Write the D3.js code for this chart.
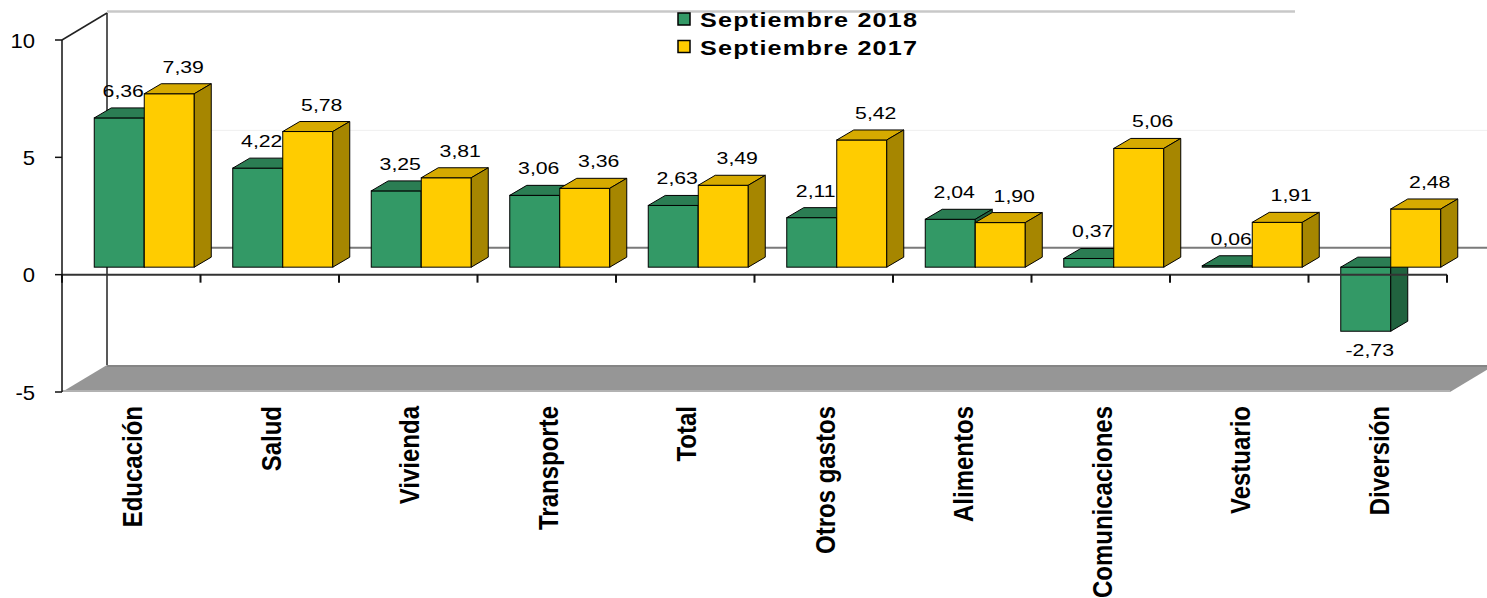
<!DOCTYPE html>
<html lang="es">

<head>
  <meta charset="utf-8" />
  <title>Septiembre 2018 vs Septiembre 2017</title>
  <script src="https://d3js.org/d3.v7.min.js"></script>
  <style>
    body { margin: 0; background: #fff; }
    text { font-family: "Liberation Sans", Arial, sans-serif; fill: #000; }
  </style>
</head>

<body>
  <script>
    // data
    var categories = ["Educación", "Salud", "Vivienda", "Transporte", "Total", "Otros gastos",
      "Alimentos", "Comunicaciones", "Vestuario", "Diversión"];
    var series = ["Septiembre 2018", "Septiembre 2017"];
    var values2018 = [6.36, 4.22, 3.25, 3.06, 2.63, 2.11, 2.04, 0.37, 0.06, -2.73];
    var values2017 = [7.39, 5.78, 3.81, 3.36, 3.49, 5.42, 1.90, 5.06, 1.91, 2.48];
    var yTicks = [-5, 0, 5, 10];

    var svg_width = 1487;
    var svg_height = 598;

    var svg = d3.select("body").append("svg")
      .attr("width", svg_width)
      .attr("height", svg_height);

    // 3d offsets: back wall, bar front plane, bar depth
    var WDX = 45, WDY = -27;
    var BOX = 13, BOY = -7.5;
    var BDX = 17, BDY = -10;

    var colors = {
      "Septiembre 2018": { front: "#339966", top: "#2b7d53", side: "#21633f" },
      "Septiembre 2017": { front: "#ffcc00", top: "#d6aa00", side: "#a68600" }
    };
    var labelShift = { "Septiembre 2018": 4, "Septiembre 2017": 14 };

    var y = d3.scaleLinear().domain([-5, 10]).range([392, 40]);
    var x0 = d3.scaleBand().domain(categories).range([62, 1447]);
    var x1 = d3.scaleBand().domain(series).range([0, x0.bandwidth()]).paddingOuter(0.385);

    var fmt = d3.formatLocale({ decimal: ",", thousands: ".", grouping: [3], currency: ["", ""], minus: "-" }).format(".2f");

    var rows = categories.map(function (c, i) {
      return { cat: c, vals: [{ s: series[0], v: values2018[i] }, { s: series[1], v: values2017[i] }] };
    });

    var xL = x0.range()[0], xR = x0.range()[1];

    // back wall + gridlines
    svg.append("rect")
      .attr("x", xL + WDX).attr("y", y(10) + WDY)
      .attr("width", svg_width).attr("height", y(-5) - y(10))
      .attr("fill", "#fff");

    svg.append("line")
      .attr("x1", xL + WDX).attr("x2", 1295)
      .attr("y1", y(10) + WDY - 1.5).attr("y2", y(10) + WDY - 1.5)
      .attr("stroke", "#c8c8c8").attr("stroke-width", 2.5);

    svg.append("line")
      .attr("x1", xL + WDX).attr("x2", xR + WDX)
      .attr("y1", y(5) + WDY).attr("y2", y(5) + WDY)
      .attr("stroke", "#efefef").attr("stroke-width", 1);

    svg.append("line")
      .attr("x1", xL + WDX).attr("x2", xR + WDX)
      .attr("y1", y(0) + WDY).attr("y2", y(0) + WDY)
      .attr("stroke", "#7a7a7a").attr("stroke-width", 2);

    // side wall edges
    svg.append("line")
      .attr("x1", xL).attr("y1", y(10))
      .attr("x2", xL + WDX).attr("y2", y(10) + WDY)
      .attr("stroke", "#222").attr("stroke-width", 1.5);

    svg.append("line")
      .attr("x1", xL + WDX).attr("y1", y(10) + WDY)
      .attr("x2", xL + WDX).attr("y2", y(-5) + WDY)
      .attr("stroke", "#222").attr("stroke-width", 1.5);

    // floor
    svg.append("polygon")
      .attr("points", [[xL, y(-5)], [xR + 3, y(-5)], [xR + 3 + WDX, y(-5) + WDY], [xL + WDX, y(-5) + WDY]].join(" "))
      .attr("fill", "#969696");

    svg.append("line")
      .attr("x1", xL + WDX).attr("x2", svg_width)
      .attr("y1", y(-5) + WDY + 1).attr("y2", y(-5) + WDY + 1)
      .attr("stroke", "#858585").attr("stroke-width", 2);

    svg.append("line")
      .attr("x1", xL).attr("x2", xR + 3)
      .attr("y1", y(-5) - 1).attr("y2", y(-5) - 1)
      .attr("stroke", "#b2b2b2").attr("stroke-width", 2);

    // bars
    var bars = svg.append("g")
      .selectAll("g")
      .data(rows)
      .join("g")
      .selectAll("g")
      .data(function (d) { return d.vals.map(function (e) { return { cat: d.cat, s: e.s, v: e.v }; }); })
      .join("g");

    bars.each(function (d) {
      var g = d3.select(this);
      var bx = x0(d.cat) + x1(d.s) + BOX;
      var w = x1.bandwidth();
      var yt = y(Math.max(d.v, 0)) + BOY;
      var yb = y(Math.min(d.v, 0)) + BOY;
      var c = colors[d.s];

      g.append("rect")
        .attr("x", bx).attr("y", yt)
        .attr("width", w).attr("height", yb - yt)
        .attr("fill", c.front).attr("stroke", "#000").attr("stroke-width", 1);

      g.append("polygon")
        .attr("points", [[bx, yt], [bx + BDX, yt + BDY], [bx + w + BDX, yt + BDY], [bx + w, yt]].join(" "))
        .attr("fill", c.top).attr("stroke", "#000").attr("stroke-width", 1).attr("stroke-linejoin", "round");

      g.append("polygon")
        .attr("points", [[bx + w, yt], [bx + w + BDX, yt + BDY], [bx + w + BDX, yb + BDY], [bx + w, yb]].join(" "))
        .attr("fill", c.side).attr("stroke", "#000").attr("stroke-width", 1).attr("stroke-linejoin", "round");
    });

    // front zero axis, drawn over the bars
    svg.append("line")
      .attr("x1", xL).attr("x2", xR)
      .attr("y1", y(0)).attr("y2", y(0))
      .attr("stroke", "#333").attr("stroke-width", 2);

    svg.append("g")
      .selectAll("line")
      .data(categories.map(function (c) { return x0(c); }).concat([xR]))
      .join("line")
      .attr("x1", function (d) { return d; }).attr("x2", function (d) { return d; })
      .attr("y1", y(0)).attr("y2", y(0) + 8)
      .attr("stroke", "#111").attr("stroke-width", 2);

    // y axis
    svg.append("line")
      .attr("x1", xL).attr("x2", xL)
      .attr("y1", y(10)).attr("y2", y(-5))
      .attr("stroke", "#111").attr("stroke-width", 1.5);

    var yAxis = svg.append("g");
    yAxis.selectAll("line")
      .data(yTicks)
      .join("line")
      .attr("x1", xL - 7).attr("x2", xL)
      .attr("y1", function (d) { return y(d); }).attr("y2", function (d) { return y(d); })
      .attr("stroke", "#111").attr("stroke-width", 1.5);

    yAxis.selectAll("text")
      .data(yTicks)
      .join("text")
      .attr("transform", function (d) { return "translate(35," + (y(d) + 7.5) + ") scale(1.05,1)"; })
      .attr("text-anchor", "end")
      .style("font-size", "21px")
      .text(function (d) { return d; });

    // value labels
    svg.append("g")
      .selectAll("text")
      .data(bars.data())
      .join("text")
      .attr("transform", function (d) {
        var cx = x0(d.cat) + x1(d.s) + BOX + x1.bandwidth() / 2 + labelShift[d.s];
        var ty = d.v >= 0 ? y(d.v) + BOY + BDY - 11 : y(d.v) + BOY + 25;
        return "translate(" + cx + "," + ty + ") scale(1.25,1)";
      })
      .attr("text-anchor", "middle")
      .style("font-size", "17px")
      .text(function (d) { return fmt(d.v); });

    // category labels
    svg.append("g")
      .selectAll("text")
      .data(categories)
      .join("text")
      .attr("transform", function (d) {
        return "translate(" + (x0(d) + x0.bandwidth() / 2 + 11) + ",406) scale(1.15,1) rotate(-90)";
      })
      .attr("text-anchor", "end")
      .style("font-size", "24px")
      .style("font-weight", "bold")
      .text(function (d) { return d; });

    // legend
    var legend = svg.append("g")
      .selectAll("g")
      .data(series)
      .join("g")
      .attr("transform", function (d, i) { return "translate(678," + (13 + i * 27.5) + ")"; });

    legend.append("rect")
      .attr("width", 12).attr("height", 12)
      .attr("fill", function (d) { return colors[d].front; })
      .attr("stroke", "#000").attr("stroke-width", 1.5);

    legend.append("text")
      .attr("transform", "translate(22,14) scale(1.2,1)")
      .style("font-size", "21px")
      .style("font-weight", "bold")
      .style("letter-spacing", "1px")
      .text(function (d) { return d; });
  </script>
</body>

</html>
